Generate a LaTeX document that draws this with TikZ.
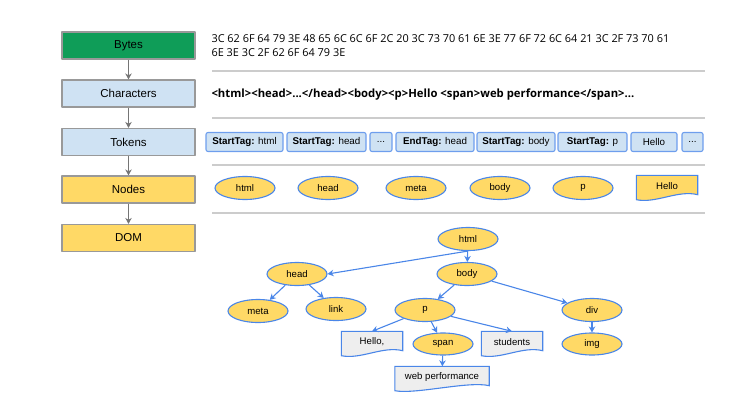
\documentclass[tikz,border=0pt]{standalone}
\usepackage{fontspec}
\setmainfont{Liberation Sans}
\newfontfamily\hexfont{Open Sans}
\usetikzlibrary{arrows.meta,backgrounds,calc,shapes.geometric}
\definecolor{bytegreen}{HTML}{0F9D58}
\definecolor{charblue}{HTML}{CFE2F3}
\definecolor{nodeyellow}{HTML}{FFD966}
\definecolor{edgeblue}{HTML}{4A86E8}
\definecolor{boxgray}{HTML}{999999}
\definecolor{docgray}{HTML}{EEEEEE}
\definecolor{rulegray}{HTML}{CCCCCC}
\definecolor{arrowgray}{HTML}{757575}
% wavy document outline behind a node: name, fill
\newcommand\docpath[2]{%
	\draw[edgeblue,line width=1.1pt,fill=#2] (#1.north west)--(#1.north east)--($(#1.south east)+(0,-2)$)
	.. controls ($(#1.south east)+(-20,-7)$) and ($(#1.south west)+(20,7)$) .. ($(#1.south west)+(0,3)$)--cycle;}
\begin{document}
\begin{tikzpicture}[x=1pt,y=-1pt,>={Stealth[length=6pt,width=6.5pt]},line join=round,
	stagebox/.style={draw=boxgray,line width=1.2pt,minimum width=133pt,minimum height=27pt,font=\fontsize{11.5}{13}\selectfont},
	token/.style={draw=edgeblue!80,fill=charblue,line width=1.1pt,rounded corners=2pt,minimum height=19pt,inner sep=0pt,font=\fontsize{9.8}{11}\selectfont},
	elem/.style={ellipse,draw=edgeblue,fill=nodeyellow,line width=1.1pt,minimum width=60pt,minimum height=23pt,inner sep=0pt,font=\fontsize{9.6}{11}\selectfont},
	doc/.style={minimum width=61pt,minimum height=21pt,inner sep=0pt,font=\fontsize{9.6}{11}\selectfont},
	tree/.style={->,edgeblue,line width=1.1pt},
	rule/.style={rulegray,line width=1.2pt}]
	\useasboundingbox (0,0) rectangle (752,404);
	% stages
	\node[stagebox,fill=bytegreen] (bytes) at (128.5,45.5) {Bytes};
	\node[stagebox,fill=charblue] (chars) at (128.5,93.5) {Characters};
	\node[stagebox,fill=charblue] (tokens) at (128.5,142) {Tokens};
	\node[stagebox,fill=nodeyellow] (nodes) at (128.5,189.5) {Nodes};
	\node[stagebox,fill=nodeyellow] (dom) at (128.5,238) {DOM};
	\foreach \a/\b in {bytes/chars,chars/tokens,tokens/nodes,nodes/dom}
		\draw[->,arrowgray,line width=1.2pt] (\a) -- (\b);
	% bytes and characters
	\node[anchor=west,align=left,font=\hexfont\fontsize{10.9}{13.5}\selectfont] (hex) at (208,45.5)
		{3C 62 6F 64 79 3E 48 65 6C 6C 6F 2C 20 3C 73 70 61 6E 3E 77 6F 72 6C 64 21 3C 2F 73 70 61\\6E 3E 3C 2F 62 6F 64 79 3E};
	\node[anchor=west,font=\hexfont\bfseries\fontsize{11.3}{13}\selectfont] (text) at (208,95)
		{<html><head>...</head><body><p>Hello <span>web performance</span>...};
	\foreach \y in {71,118,165,213}
		\draw[rule] (212,\y) -- (705,\y);
	% tokens
	\node[token,minimum width=77pt] (t1) at (244.5,142) {\textbf{StartTag:} html};
	\node[token,minimum width=79pt] (t2) at (326.5,142) {\textbf{StartTag:} head};
	\node[token,minimum width=22pt] (t3) at (381,142) {...};
	\node[token,minimum width=78pt] (t4) at (435,142) {\textbf{EndTag:} head};
	\node[token,minimum width=78pt] (t5) at (516,142) {\textbf{StartTag:} body};
	\node[token,minimum width=69pt] (t6) at (592.5,142) {\textbf{StartTag:} p};
	\node[token,minimum width=46pt] (t7) at (654,142) {Hello};
	\node[token,minimum width=21pt] (t8) at (692.5,142) {...};
	% nodes
	\node[elem] (nhtml) at (245,188) {html};
	\node[elem] (nhead) at (328,188) {head};
	\node[elem] (nmeta) at (416,188) {meta};
	\node[elem] (nbody) at (500,188) {body};
	\node[elem] (np) at (583,188) {p};
	\node[doc] (nhello) at (667,186) {Hello};
	% dom tree
	\node[elem] (html) at (468,239) {html};
	\node[elem] (head) at (297,274) {head};
	\node[elem] (body) at (467,274) {body};
	\node[elem] (meta) at (258,311) {meta};
	\node[elem] (link) at (336,309) {link};
	\node[elem] (p) at (425,310) {p};
	\node[elem] (div) at (592,310) {div};
	\node[doc] (hello) at (372,342) {Hello,};
	\node[elem,minimum height=22pt] (span) at (443,344) {span};
	\node[doc] (students) at (512,342) {students};
	\node[elem,minimum height=22pt] (img) at (592,344) {img};
	\node[doc,minimum width=94pt] (perf) at (442,377) {web performance};
	\begin{scope}[on background layer]
		\docpath{nhello}{nodeyellow}
		\docpath{hello}{docgray}
		\docpath{students}{docgray}
		\docpath{perf}{docgray}
	\end{scope}
	\draw[tree] (html.south) -- (head.east);
	\draw[tree] (html) -- (body);
	\draw[tree] (head) -- (meta);
	\draw[tree] (head) -- (link);
	\draw[tree] (body) -- (p);
	\draw[tree] (body) -- (div);
	\draw[tree] (p) -- (hello.north);
	\draw[tree] (p) -- (span);
	\draw[tree] (p) -- (students.north);
	\draw[tree] (span) -- (perf);
	\draw[tree] (div) -- (img);
\end{tikzpicture}
\end{document}
